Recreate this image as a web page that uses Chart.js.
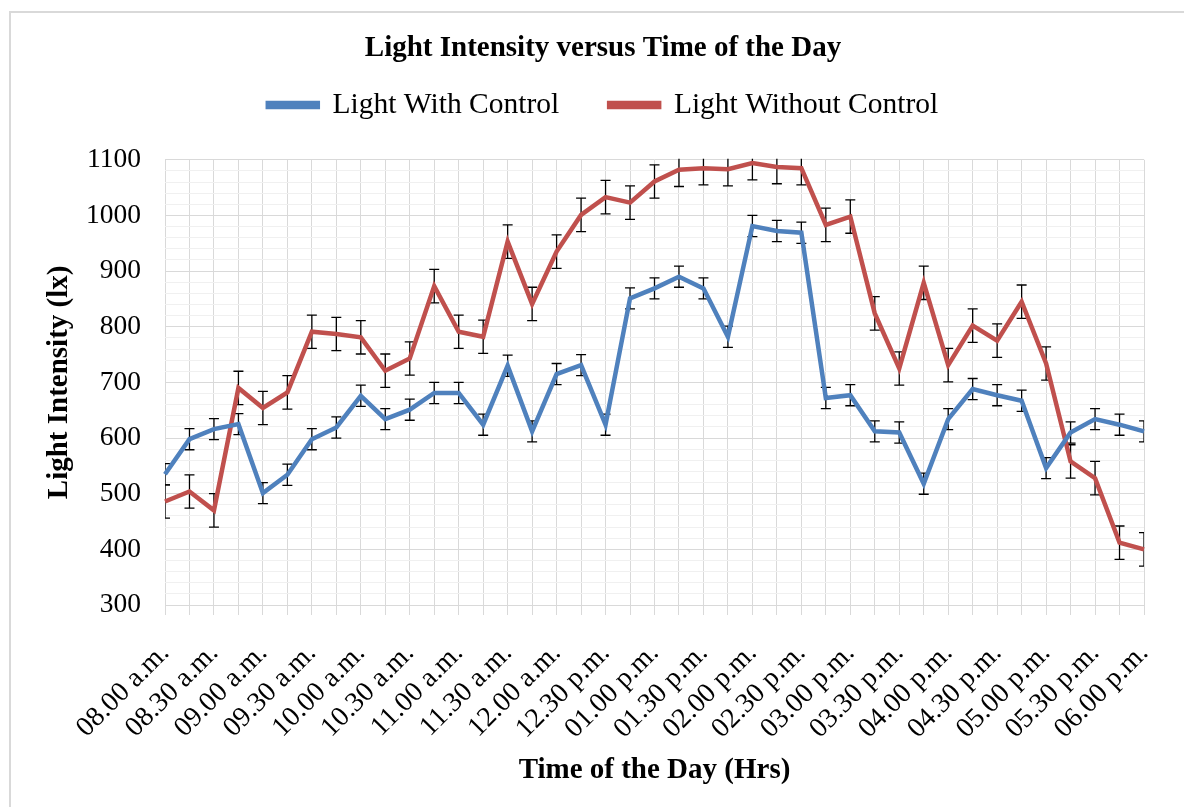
<!DOCTYPE html>
<html>
<head>
<meta charset="utf-8">
<title>Light Intensity versus Time of the Day</title>
<script src="https://cdn.jsdelivr.net/npm/chart.js@4.4.1/dist/chart.umd.min.js"></script>
<style>
  html, body { margin: 0; padding: 0; background: #fff; }
  #wrap { width: 1184px; height: 807px; }
</style>
</head>
<body>
<div id="wrap"><canvas id="lightChart"></canvas></div>
<script>
// Datos: lecturas cada 15 minutos
const times = [
  '08.00 a.m.', '08.15 a.m.', '08.30 a.m.', '08.45 a.m.', '09.00 a.m.', '09.15 a.m.', '09.30 a.m.', '09.45 a.m.',
  '10.00 a.m.', '10.15 a.m.', '10.30 a.m.', '10.45 a.m.', '11.00 a.m.', '11.15 a.m.', '11.30 a.m.', '11.45 a.m.',
  '12.00 a.m.', '12.15 p.m.', '12.30 p.m.', '12.45 p.m.', '01.00 p.m.', '01.15 p.m.', '01.30 p.m.', '01.45 p.m.',
  '02.00 p.m.', '02.15 p.m.', '02.30 p.m.', '02.45 p.m.', '03.00 p.m.', '03.15 p.m.', '03.30 p.m.', '03.45 p.m.',
  '04.00 p.m.', '04.15 p.m.', '04.30 p.m.', '04.45 p.m.', '05.00 p.m.', '05.15 p.m.', '05.30 p.m.', '05.45 p.m.',
  '06.00 p.m.'
];

const withControl = [
  535, 598, 616, 625, 501, 534, 598, 619, 676, 634, 651, 681, 681, 624, 730, 612,
  715, 731, 624, 851, 869, 890, 869, 782, 981, 972, 969, 672, 677, 612, 610, 518,
  634, 688, 677, 667, 546, 610, 634, 624, 612
];

const withoutControl = [
  486, 504, 470, 690, 654, 682, 791, 787, 781, 721, 743, 873, 791, 782, 953, 841,
  935, 1001, 1033, 1023, 1061, 1082, 1085, 1083, 1094, 1087, 1085, 983, 998, 824, 725, 879,
  731, 802, 775, 845, 734, 558, 528, 412, 400
];

// barras de error (+/-)
const errWith = [
  19, 19, 19, 19, 19, 19, 19, 19, 19, 19, 19, 19, 19, 19, 19, 19,
  19, 19, 19, 19, 19, 19, 19, 19, 19, 19, 19, 19, 19, 19, 19, 19,
  19, 19, 19, 19, 19, 19, 19, 19, 19
];

const errWithout = [
  30, 30, 30, 30, 30, 30, 30, 30, 30, 30, 30, 30, 30, 30, 30, 30,
  30, 30, 30, 30, 30, 30, 30, 30, 30, 30, 30, 30, 30, 30, 30, 30,
  30, 30, 30, 30, 30, 30, 30, 30, 30
];

const yLabels = [300, 400, 500, 600, 700, 800, 900, 1000, 1100];

Chart.defaults.font.family = "'Liberation Serif', 'Times New Roman', serif";
Chart.defaults.color = '#000';

// Marco gris del gráfico
const frame = {
  id: 'frame',
  beforeDraw(chart) {
    const ctx = chart.ctx;
    ctx.save();
    ctx.strokeStyle = '#d9d9d9';
    ctx.lineWidth = 2;
    ctx.beginPath();
    ctx.moveTo(10, 830);
    ctx.lineTo(10, 12);
    ctx.lineTo(1200, 12);
    ctx.stroke();
    ctx.restore();
  }
};

// Barras de error dibujadas con las escalas del gráfico
const errorBars = {
  id: 'errorBars',
  beforeDatasetsDraw(chart) {
    const {ctx, chartArea} = chart;
    const yScale = chart.scales.y;
    ctx.save();
    ctx.beginPath();
    ctx.rect(chartArea.left, chartArea.top - 1, chartArea.width, chartArea.height + 2);
    ctx.clip();
    ctx.strokeStyle = '#000';
    ctx.lineWidth = 1.3;
    chart.data.datasets.forEach((ds, di) => {
      const meta = chart.getDatasetMeta(di);
      meta.data.forEach((pt, i) => {
        const v = ds.data[i];
        const e = ds.errors[i];
        const top = yScale.getPixelForValue(v + e);
        const bot = yScale.getPixelForValue(v - e);
        const x = pt.x;
        ctx.beginPath();
        ctx.moveTo(x, top); ctx.lineTo(x, bot);
        ctx.moveTo(x - 5, top); ctx.lineTo(x + 5, top);
        ctx.moveTo(x - 5, bot); ctx.lineTo(x + 5, bot);
        ctx.stroke();
      });
    });
    ctx.restore();
  }
};

const config = {
  type: 'line',
  data: {
    labels: times,
    datasets: [{
      label: 'Light With Control',
      data: withControl,
      errors: errWith,
      borderColor: '#4f81bd',
      backgroundColor: '#4f81bd',
      borderWidth: 4.5,
      pointRadius: 0,
      tension: 0,
      xAxisID: 'x',
      yAxisID: 'y'
    }, {
      label: 'Light Without Control',
      data: withoutControl,
      errors: errWithout,
      borderColor: '#c0504d',
      backgroundColor: '#c0504d',
      borderWidth: 4.5,
      pointRadius: 0,
      tension: 0,
      xAxisID: 'x',
      yAxisID: 'y'
    }]
  },
  options: {
    responsive: true,
    maintainAspectRatio: false,
    animation: false,
    layout: { padding: { left: 22, right: 0, top: 0, bottom: 0 } },
    plugins: {
      title: {
        display: true,
        text: 'Light Intensity versus Time of the Day',
        font: { size: 29, weight: 'bold' },
        color: '#000',
        padding: { top: 31, bottom: -25.5 }
      },
      legend: {
        display: true,
        labels: {
          font: { size: 29.5 },
          color: '#000',
          boxWidth: 50,
          boxHeight: 4,
          padding: 50
        }
      },
      tooltip: { enabled: false }
    },
    scales: {
      x: {
        type: 'category',
        position: 'bottom',
        grid: { color: '#d9d9d9', lineWidth: 1, tickLength: 10 },
        border: { color: '#d9d9d9' },
        ticks: {
          autoSkip: false,
          minRotation: 45,
          maxRotation: 45,
          padding: 22,
          font: { size: 28 },
          color: '#000',
          callback: function (value, index) {
            return index % 2 === 0 ? this.getLabelForValue(value) : '';
          }
        },
        title: {
          display: true,
          text: 'Time of the Day (Hrs)',
          font: { size: 29, weight: 'bold' },
          color: '#000',
          padding: { top: 0, bottom: 19 }
        },
        afterFit: (scale) => {
          scale.height = 202;
          scale.paddingRight = 0;
        }
      },
      y: {
        type: 'linear',
        position: 'left',
        min: 300,
        max: 1100,
        grid: {
          drawTicks: false,
          color: (c) => (c.tick && c.tick.value % 100 === 0) ? '#d9d9d9' : '#f0f0f0',
          lineWidth: 1
        },
        border: { display: false },
        ticks: {
          stepSize: 20,
          maxTicksLimit: 60,
          autoSkip: false,
          padding: 24,
          font: { size: 27.5 },
          color: '#000',
          callback: (value) => yLabels.includes(value) ? String(value) : ''
        },
        title: {
          display: true,
          text: 'Light Intensity (lx)',
          font: { size: 29, weight: 'bold' },
          color: '#000',
          padding: { top: 20, bottom: 0 }
        },
        afterFit: (scale) => { scale.width = 143; }
      },
      xPad: {
        type: 'category',
        axis: 'x',
        position: 'top',
        grid: { display: false },
        border: { display: false },
        ticks: { display: false },
        afterFit: (scale) => { scale.height = 30; }
      },
      yPad: {
        type: 'linear',
        axis: 'y',
        position: 'right',
        grid: { display: false },
        border: { display: false },
        ticks: { display: false },
        afterFit: (scale) => { scale.width = 40; }
      }
    }
  },
  plugins: [frame, errorBars]
};

const lightChart = new Chart(document.getElementById('lightChart'), config);
</script>
</body>
</html>
